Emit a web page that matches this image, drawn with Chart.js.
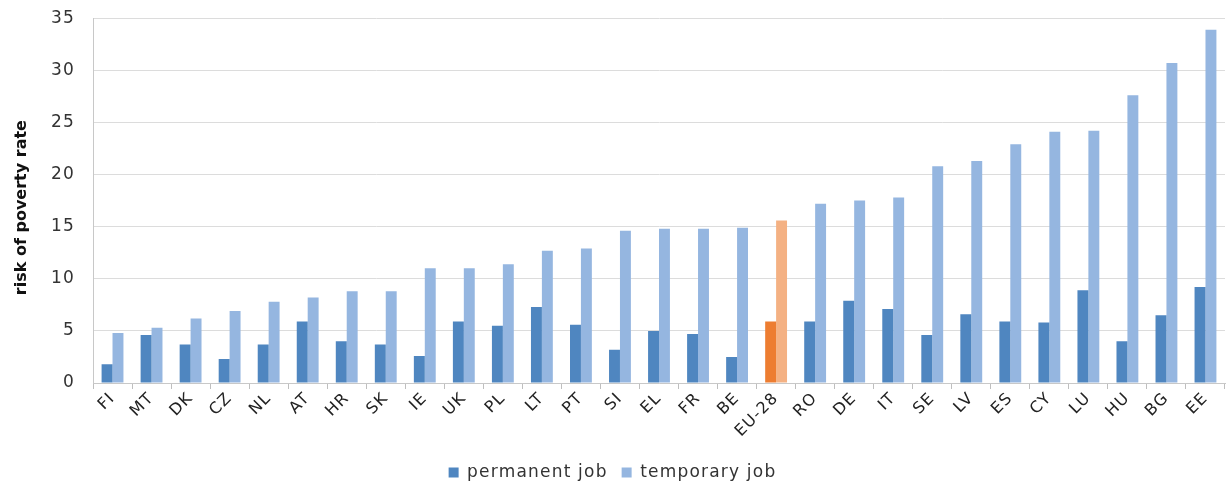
<!DOCTYPE html>
<html>
<head>
<meta charset="utf-8">
<script src="https://cdn.jsdelivr.net/npm/chart.js@4.4.1/dist/chart.umd.min.js"></script>
<style>
html,body{margin:0;padding:0;background:#fff;overflow:hidden;}
#wrap{width:1232px;height:485px;position:relative;overflow:hidden;}
#c{position:absolute;left:0;top:-10px;}
</style>
</head>
<body>
<div id="wrap"><canvas id="c" width="1232" height="501"></canvas></div>
<script>
const categories = ["FI","MT","DK","CZ","NL","AT","HR","SK","IE","UK","PL","LT","PT","SI","EL","FR","BE","EU-28","RO","DE","IT","SE","LV","ES","CY","LU","HU","BG","EE"];
const permanentJob = [1.8,4.6,3.7,2.3,3.7,5.9,4.0,3.7,2.6,5.9,5.5,7.3,5.6,3.2,5.0,4.7,2.5,5.9,5.9,7.9,7.1,4.6,6.6,5.9,5.8,8.9,4.0,6.5,9.2];
const temporaryJob = [4.8,5.3,6.2,6.9,7.8,8.2,8.8,8.8,11.0,11.0,11.4,12.7,12.9,14.6,14.8,14.8,14.9,15.6,17.2,17.5,17.8,20.8,21.3,22.9,24.1,24.2,27.6,30.7,33.9];
const seriesNames = ["permanent job","temporary job"];
const yTicks = [0,5,10,15,20,25,30,35];
const yTitle = "risk of poverty rate";
const highlight = "EU-28";

const hi = categories.indexOf(highlight);
const FONT = "'DejaVu Sans', Verdana, sans-serif";
const SPACING = '1.2px';

const spacingPlugin = {
  id: 'spacing',
  beforeUpdate(chart) { chart.ctx.letterSpacing = SPACING; },
  beforeDraw(chart) { chart.ctx.letterSpacing = SPACING; },
  afterDraw(chart) {
    const ctx = chart.ctx, a = chart.chartArea;
    ctx.save();
    ctx.letterSpacing = '0px';
    ctx.font = "bold 16px " + FONT;
    ctx.fillStyle = '#111';
    ctx.textAlign = 'center';
    ctx.textBaseline = 'middle';
    ctx.translate(22, (a.top + a.bottom) / 2 + 7);
    ctx.rotate(-Math.PI / 2);
    ctx.fillText(yTitle, 0, 0);
    ctx.restore();
  }
};

new Chart(document.getElementById('c'), {
  type: 'bar',
  data: {
    labels: categories,
    datasets: [
      { label: seriesNames[0], data: permanentJob,
        backgroundColor: ctx => (ctx.type === 'data' && ctx.dataIndex === hi) ? '#ED7D31' : '#4F86C0',
        categoryPercentage: 0.56, barPercentage: 1.0 },
      { label: seriesNames[1], data: temporaryJob,
        backgroundColor: ctx => (ctx.type === 'data' && ctx.dataIndex === hi) ? '#F4B183' : '#95B6E0',
        categoryPercentage: 0.56, barPercentage: 1.0 }
    ]
  },
  plugins: [spacingPlugin],
  options: {
    responsive: false,
    animation: false,
    layout: { padding: { top: 0, right: 7, left: 0, bottom: 0 } },
    plugins: {
      tooltip: { enabled: false },
      legend: {
        position: 'bottom',
        labels: { font: { family: FONT, size: 17 }, color: '#333', boxWidth: 10, boxHeight: 10, padding: 14 }
      }
    },
    scales: {
      x: {
        grid: { offset: true, drawOnChartArea: false, drawTicks: true, tickLength: 6, color: '#bfbfbf' },
        border: { color: '#c8c8c8' },
        ticks: { font: { family: FONT, size: 16 }, color: '#222', minRotation: 45, maxRotation: 45, padding: 0 },
        afterFit: s => { s.height = 67; }
      },
      y: {
        min: 0, max: 35,
        afterBuildTicks: s => { s.ticks = yTicks.map(v => ({ value: v })); },
        grid: { color: '#dcdcdc', drawTicks: false },
        border: { color: '#c8c8c8' },
        ticks: { font: { family: FONT, size: 17 }, color: '#333', padding: 18 },
        title: { display: false },
        afterFit: s => { s.width = 93; }
      }
    }
  }
});
</script>
</body>
</html>
